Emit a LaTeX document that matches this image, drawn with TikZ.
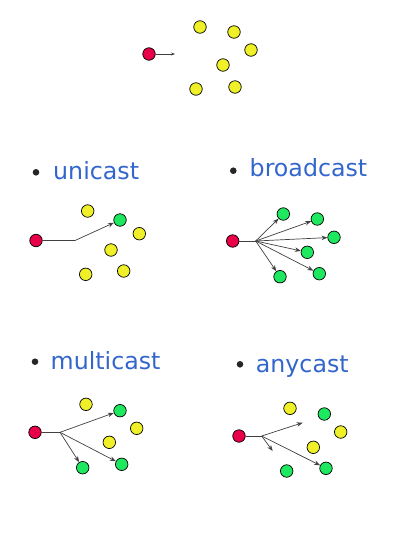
\documentclass[tikz,border=0pt]{standalone}
\usepackage{fontspec}
\setmainfont{DejaVu Sans}
\usetikzlibrary{arrows.meta}
\definecolor{hostred}{RGB}{232,0,72}
\definecolor{hostyellow}{RGB}{240,240,40}
\definecolor{hostgreen}{RGB}{30,232,96}
\definecolor{castblue}{RGB}{51,102,204}
\tikzset{
  host/.style={circle, draw=black, line width=0.7pt, minimum size=12.5pt, inner sep=0pt},
  sender/.style={host, fill=hostred},
  idle/.style={host, fill=hostyellow},
  target/.style={host, fill=hostgreen},
  castname/.style={anchor=base west, inner sep=0pt, text=castblue, font=\fontsize{23.7}{28}\selectfont},
  bullet/.style={circle, fill=black!85, minimum size=6.6pt, inner sep=0pt},
  wire/.style={draw=black!75, line width=0.7pt}
}

\begin{document}
\begin{tikzpicture}[x=1pt, y=-1pt, >={Stealth[length=6pt, width=4.5pt]}]
    \useasboundingbox (0,0) rectangle (403,555);

    % network before sending
    \node[sender] (ns) at (149,54) {};
    \coordinate (ne) at (175,54);
    \node[idle] (n1) at (200,27) {};
    \node[idle] (n2) at (234,32) {};
    \node[idle] (n3) at (251,50) {};
    \node[idle] (n4) at (223,65) {};
    \node[idle] (n5) at (196,89) {};
    \node[idle] (n6) at (235,87) {};
    \draw[wire, -{Stealth[length=4pt, width=3pt]}] (ns) -- (ne);

    % unicast
    \node[bullet] (ub) at (36,172.3) {};
    \node[castname] (ul) at (53,179.5) {unicast};
    \node[sender] (us) at (36,240.5) {};
    \coordinate (uh) at (75,240.5);
    \node[idle] (u1) at (87.7,211) {};
    \node[target] (u2) at (120,220) {};
    \node[idle] (u3) at (139.3,233.7) {};
    \node[idle] (u4) at (111,250) {};
    \node[idle] (u5) at (85.7,274.3) {};
    \node[idle] (u6) at (123.7,271) {};
    \draw[wire] (us) -- (uh);
    \draw[wire, ->] (uh) -- (u2);

    % broadcast
    \node[bullet] (bb) at (233.3,170.7) {};
    \node[castname] (bl) at (249.5,176.7) {broadcast};
    \node[sender] (bs) at (232.7,241) {};
    \coordinate (bh) at (255.7,241);
    \node[target] (b1) at (283.3,214) {};
    \node[target] (b2) at (317.3,219) {};
    \node[target] (b3) at (334,237.3) {};
    \node[target] (b4) at (307.3,252.3) {};
    \node[target] (b5) at (319.3,273.7) {};
    \node[target] (b6) at (280,276.7) {};
    \draw[wire] (bs) -- (bh);
    \foreach \t in {b1,b2,b3,b4,b5,b6}
        \draw[wire, ->] (bh) -- (\t);

    % multicast
    \node[bullet] (mb) at (35,361.7) {};
    \node[castname] (ml) at (50.5,369.3) {multicast};
    \node[sender] (ms) at (35,432.3) {};
    \coordinate (mh) at (60,432.3);
    \node[idle] (m1) at (86,404.3) {};
    \node[target] (m2) at (120,410.7) {};
    \node[idle] (m3) at (136.7,428.3) {};
    \node[idle] (m4) at (109.3,442.3) {};
    \node[target] (m5) at (82.7,467.7) {};
    \node[target] (m6) at (121.7,464.3) {};
    \draw[wire] (ms) -- (mh);
    \foreach \t in {m2,m5,m6}
        \draw[wire, ->] (mh) -- (\t);

    % anycast
    \node[bullet] (ab) at (240,364.3) {};
    \node[castname] (al) at (255.7,372.3) {anycast};
    \node[sender] (as) at (239,436) {};
    \coordinate (ah) at (261.7,436);
    \coordinate (ae1) at (302.7,422.7);
    \coordinate (ae2) at (272.7,451);
    \node[idle] (a1) at (290,408.3) {};
    \node[target] (a2) at (324.3,414) {};
    \node[idle] (a3) at (340.7,432) {};
    \node[idle] (a4) at (313.3,447.3) {};
    \node[target] (a5) at (286.7,471) {};
    \node[target] (a6) at (326,468.3) {};
    \draw[wire] (as) -- (ah);
    \draw[wire, ->] (ah) -- (ae1);
    \draw[wire, ->] (ah) -- (ae2);
    \draw[wire, ->] (ah) -- (a6);

\end{tikzpicture}
\end{document}
